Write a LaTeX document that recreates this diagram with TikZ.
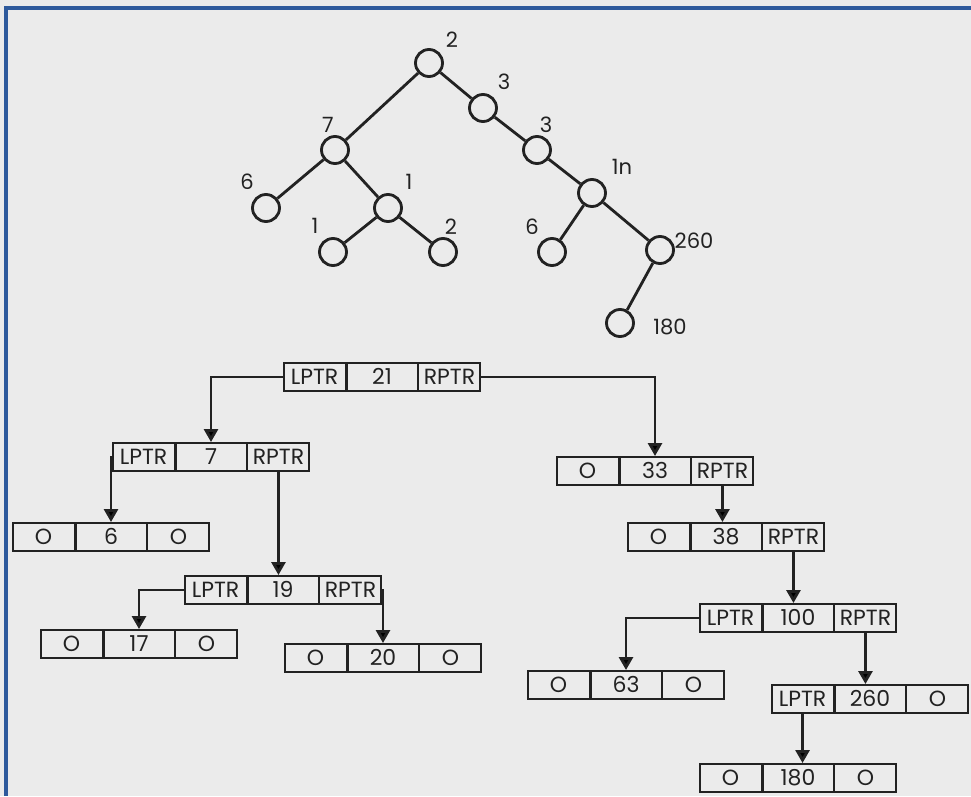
\documentclass[tikz,border=0pt]{standalone}
\usepackage{fontspec}
\setmainfont{Poppins}
\usetikzlibrary{arrows.meta,shapes.multipart}
\definecolor{ink}{HTML}{222222}
\definecolor{paper}{HTML}{EBEBEB}
\definecolor{frame}{HTML}{2E5A9C}
\newcommand{\rstrut}{\rule[-1.0mm]{0pt}{5.1mm}}
\newcommand{\rtext}[3]{\rstrut\makebox[11mm]{#1}\nodepart{two}\rstrut\makebox[12.6mm]{#2}\nodepart{three}\rstrut\makebox[11mm]{#3}}
\tikzset{
  vtx/.style={circle,draw=ink,line width=1.6pt,minimum size=5.4mm,inner sep=0pt,fill=paper},
  lbl/.style={font=\fontsize{12}{14}\selectfont,text=ink,inner sep=1pt},
  link/.style={draw=ink,line width=1.6pt},
  rec/.style={draw=ink,line width=1.4pt,rectangle split,rectangle split horizontal,rectangle split parts=3,inner xsep=0.6mm,inner ysep=0.2mm,font=\fontsize{12.5}{14}\selectfont,text=ink},
  ptr/.style={draw=ink,line width=1.6pt,-{Triangle[length=2.6mm,width=2.8mm]}},
}
\begin{document}
\begin{tikzpicture}[x=0.2mm,y=-0.2mm]
\fill[paper] (0,0) rectangle (971,796);
\useasboundingbox (0,0) rectangle (971,796);
\draw[frame,line width=2.2pt] (971,8) -- (6,8) -- (6,796);

% the tree
\foreach \n/\x/\y/\lx/\ly/\t in {
  t2/429/63/452/40/2, t3a/483/108/504/82/3, t3b/537/150/546/125/3,
  t10/592/193/622/167/1n, t260/660/250/694/241/260, t180/620/323/670/327/180,
  t6b/552/252/532/227/6, t7/335/150/328/125/7, t6a/266/208/247/182/6,
  t1a/388/208/409/182/1, t1b/333/252/315/226/1, t2b/443/252/451/227/2}
  {\node[vtx] (\n) at (\x,\y) {};
   \node[lbl] (\n-l) at (\lx,\ly) {\t};}
\foreach \a/\b in {t2/t7,t2/t3a,t3a/t3b,t3b/t10,t10/t6b,t10/t260,t260/t180,
  t7/t6a,t7/t1a,t1a/t1b,t1a/t2b}
  \draw[link] (\a) -- (\b);

% the linked records
\node[rec] (r21) at (382,377) {\rtext{LPTR}{21}{RPTR}};
\node[rec] (r7) at (211,457) {\rtext{LPTR}{7}{RPTR}};
\node[rec] (r6) at (111,537) {\rtext{O}{6}{O}};
\node[rec] (r19) at (283,590) {\rtext{LPTR}{19}{RPTR}};
\node[rec] (r17) at (139,644) {\rtext{O}{17}{O}};
\node[rec] (r20) at (383,658) {\rtext{O}{20}{O}};
\node[rec] (r33) at (655,471) {\rtext{O}{33}{RPTR}};
\node[rec] (r38) at (726,537) {\rtext{O}{38}{RPTR}};
\node[rec] (r100) at (798,618) {\rtext{LPTR}{100}{RPTR}};
\node[rec] (r63) at (626,685) {\rtext{O}{63}{O}};
\node[rec] (r260) at (870,699) {\rtext{LPTR}{260}{O}};
\node[rec] (r180) at (798,778) {\rtext{O}{180}{O}};

\draw[ptr] (r21.west) -| (r7.north);
\draw[ptr] (r21.east) -| (r33.north);
\draw[ptr] (r7.west) -| (r6.north);
\draw[ptr] (r7.three south) -- (r7.three south |- r19.north);
\draw[ptr] (r19.west) -| (r17.north);
\draw[ptr] (r19.east) -| (r20.north);
\draw[ptr] (r33.three south) -- (r33.three south |- r38.north);
\draw[ptr] (r38.three south) -- (r38.three south |- r100.north);
\draw[ptr] (r100.west) -| (r63.north);
\draw[ptr] (r100.three south) -- (r100.three south |- r260.north);
\draw[ptr] (r260.one south) -- (r260.one south |- r180.north);
\end{tikzpicture}
\end{document}
